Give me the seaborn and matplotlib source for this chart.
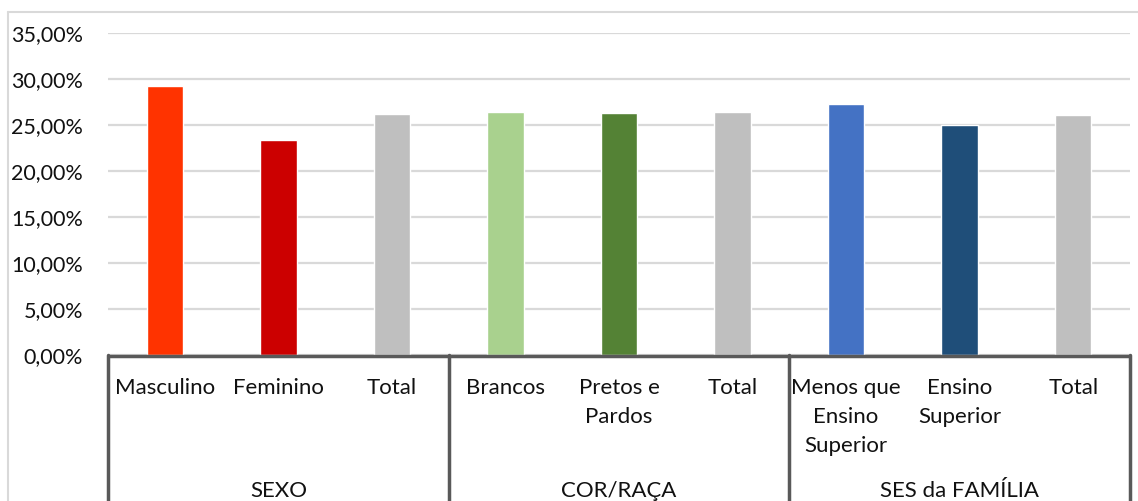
import matplotlib
matplotlib.use("Agg")
import matplotlib.pyplot as plt
from matplotlib.lines import Line2D
from matplotlib.ticker import FuncFormatter, MultipleLocator
import seaborn as sns
import pandas as pd

# Category labels, grouped
groups = ["SEXO", "COR/RAÇA", "SES da FAMÍLIA"]
labels = ["Masculino", "Feminino", "Total",
          "Brancos", "Pretos e\nPardos", "Total",
          "Menos que\nEnsino\nSuperior", "Ensino\nSuperior", "Total"]
values = [29.2, 23.4, 26.2,
          26.4, 26.3, 26.4,
          27.3, 25.0, 26.1]
colors = ["#FF3300", "#CC0000", "#BFBFBF",
          "#A9D18E", "#548235", "#BFBFBF",
          "#4472C4", "#1F4E79", "#BFBFBF"]

keys = [f"c{i}" for i in range(len(labels))]
df = pd.DataFrame({"key": keys, "value": values})

W, H, DPI = 1138, 501, 100
sns.set_theme(style="white")
plt.rcParams["font.family"] = ["Lato", "DejaVu Sans"]

fig = plt.figure(figsize=(W / DPI, H / DPI), dpi=DPI)
ax_left, ax_right, ax_top, ax_bot = 108, 1130, 33, 355
ax = fig.add_axes([ax_left / W, 1 - ax_bot / H,
                   (ax_right - ax_left) / W, (ax_bot - ax_top) / H])

sns.barplot(data=df, x="key", y="value", hue="key", order=keys,
            palette=dict(zip(keys, colors)), width=0.32, dodge=False,
            legend=False, ax=ax, saturation=1)

text_color = "#111111"
ax.set_xlim(-0.5, len(keys) - 0.5)
ax.set_ylim(0, 35)
ax.yaxis.set_major_locator(MultipleLocator(5))
ax.yaxis.set_major_formatter(FuncFormatter(lambda v, p: f"{v:.2f}%".replace(".", ",")))
ax.tick_params(axis="y", length=0, pad=18, labelsize=15.5, labelcolor=text_color)
ax.set_xticks([])
ax.set_xlabel("")
ax.set_ylabel("")
for s in ax.spines.values():
    s.set_visible(False)
ax.grid(axis="y", color="#D9D9D9", linewidth=1.6)
ax.set_axisbelow(True)

axis_color = "#595959"
span = ax_bot - ax_top
to_ax = lambda ypix: (ax_bot - ypix) / span
trans = ax.get_xaxis_transform()

# Category axis line and group separators
ax.add_line(Line2D([-0.5, len(keys) - 0.5], [to_ax(356), to_ax(356)], transform=trans,
                   color=axis_color, lw=2.5, clip_on=False, solid_capstyle="butt"))
for xb in [-0.5, 2.5, 5.5, 8.5]:
    ax.add_line(Line2D([xb, xb], [to_ax(355), to_ax(H + 2)], transform=trans,
                       color=axis_color, lw=2.5, clip_on=False))

# Category labels, one line at a time
for i, lab in enumerate(labels):
    for j, line in enumerate(lab.split("\n")):
        ax.text(i, to_ax(388 + 29 * j), line, transform=trans, ha="center",
                va="center", fontsize=16, color=text_color, clip_on=False)

# Group labels
for g, name in enumerate(groups):
    ax.text(3 * g + 1, to_ax(491), name, transform=trans, ha="center",
            va="center", fontsize=16, color=text_color, clip_on=False)

# Outer chart border
frame = "#D9D9D9"
fig.add_artist(Line2D([8 / W, 1], [1 - 12 / H, 1 - 12 / H], color=frame, lw=1.5))
fig.add_artist(Line2D([8 / W, 8 / W], [1 - 12 / H, 0], color=frame, lw=1.5))

fig.savefig("out.png", dpi=DPI)
